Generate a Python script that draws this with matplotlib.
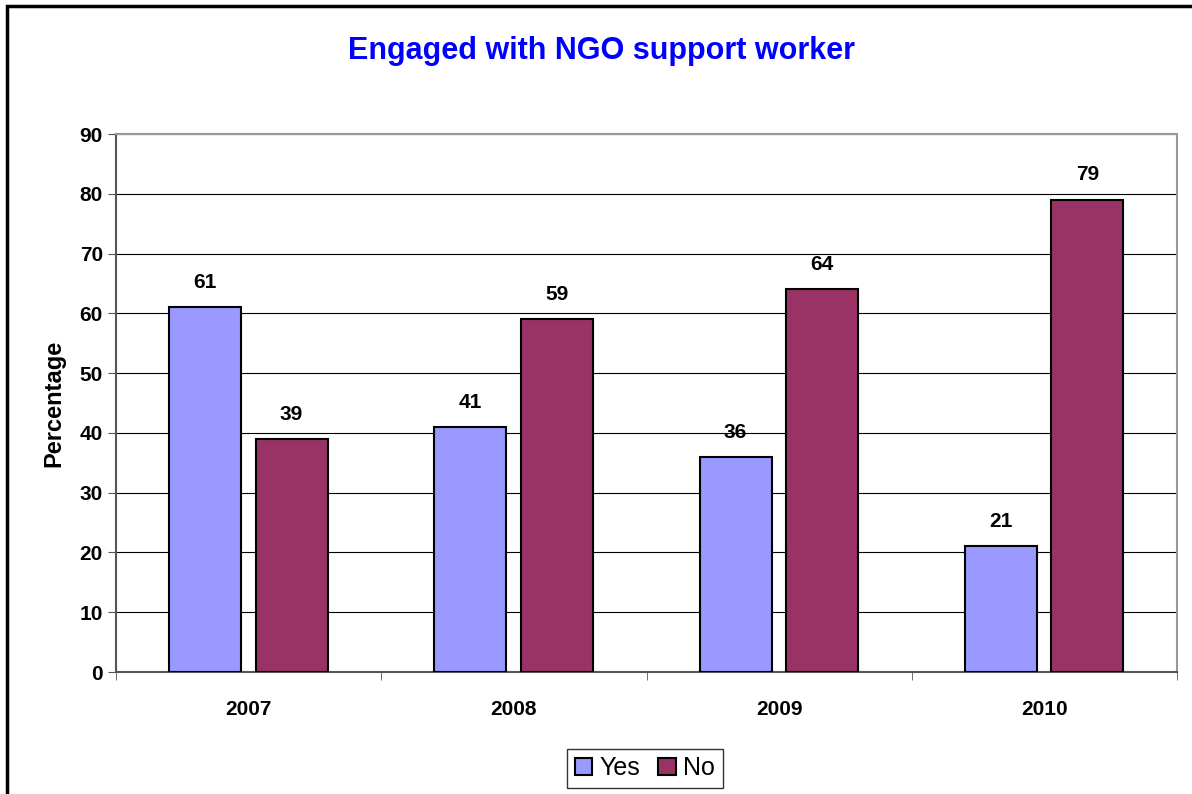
import matplotlib.pyplot as plt
import numpy as np
from matplotlib.patches import Rectangle

years = ['2007', '2008', '2009', '2010']
yes_vals = [61, 41, 36, 21]
no_vals = [39, 59, 64, 79]

plt.rcParams['font.family'] = ['Liberation Sans', 'DejaVu Sans']

fig = plt.figure(figsize=(11.92, 7.94), dpi=100)
ax = fig.add_axes([116 / 1192, 1 - 672 / 794, 1061 / 1192, 538 / 794])

x = np.arange(len(years))
w = 0.272
b1 = ax.bar(x - 0.164, yes_vals, w, color='#9999FF', edgecolor='black', linewidth=1.5, label='Yes', zorder=3)
b2 = ax.bar(x + 0.162, no_vals, w, color='#993366', edgecolor='black', linewidth=1.5, label='No', zorder=3)

for bars in (b1, b2):
    for r in bars:
        ax.annotate(f'{r.get_height():.0f}', (r.get_x() + r.get_width() / 2, r.get_height()),
                    xytext=(0, 11), textcoords='offset points', ha='center', va='bottom',
                    fontsize=15, fontweight='bold')

ax.set_xlim(-0.5, 3.5)
ax.set_ylim(0, 90)
ax.set_yticks(range(0, 91, 10))
ax.yaxis.grid(True, color='black', linewidth=0.8, zorder=0)
ax.set_xticks(x)
ax.set_xticklabels(years, fontsize=15, fontweight='bold')
ax.set_xticks(np.arange(-0.5, 4, 1), minor=True)
ax.tick_params(axis='x', which='major', length=0, pad=20)
ax.tick_params(axis='x', which='minor', length=6, direction='out', color='#555555')
ax.tick_params(axis='y', length=6, direction='out', color='#555555', labelsize=15)
for t in ax.get_yticklabels():
    t.set_fontweight('bold')

for s in ('left', 'bottom'):
    ax.spines[s].set_color('#555555')
    ax.spines[s].set_linewidth(1.5)
for s in ('top', 'right'):
    ax.spines[s].set_color('#999999')
    ax.spines[s].set_linewidth(1.5)

ax.set_ylabel('Percentage', fontsize=17, fontweight='bold', labelpad=10)

fig.text(602 / 1192, 1 - 51 / 794, 'Engaged with NGO support worker', ha='center', va='center',
         fontsize=22, fontweight='bold', color='#0000FF')

leg = fig.legend(loc='center', bbox_to_anchor=(645 / 1192, 1 - 768 / 794), ncol=2, fontsize=18,
                 frameon=True, fancybox=False, edgecolor='black', handlelength=0.7, handleheight=0.7,
                 handletextpad=0.3, columnspacing=0.7, borderpad=0.3)
leg.get_frame().set_linewidth(1.0)

fig.patches.append(Rectangle((7 / 1192, -0.1), 1.2, 1 - 6 / 794 + 0.1, transform=fig.transFigure,
                             fill=False, edgecolor='black', linewidth=2.5))

fig.savefig('out.png', dpi=100)
